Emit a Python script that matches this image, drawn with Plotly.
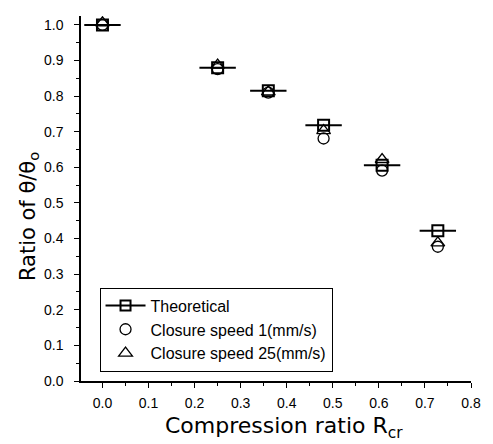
import plotly.graph_objects as go

# Data
compression_ratio = [0.0, 0.25, 0.36, 0.48, 0.607, 0.728]
theoretical = [1.0, 0.88, 0.815, 0.718, 0.606, 0.422]
speed_1 = [1.0, 0.876, 0.81, 0.681, 0.591, 0.377]
speed_25 = [1.006, 0.887, 0.812, 0.703, 0.622, 0.388]

x_ticks = [0.0, 0.1, 0.2, 0.3, 0.4, 0.5, 0.6, 0.7, 0.8]
x_tick_labels = ["0.0", "0.1", "0.2", "0.3", "0.4", "0.5", "0.6", "0.7", "0.8"]
y_ticks = [0.0, 0.1, 0.2, 0.3, 0.4, 0.5, 0.6, 0.7, 0.8, 0.9, 1.0]
y_tick_labels = ["0.0", "0.1", "0.2", "0.3", "0.4", "0.5", "0.6", "0.7", "0.8", "0.9", "1.0"]

fig = go.Figure()

# Circles (speed 1)
fig.add_trace(go.Scatter(
    x=compression_ratio, y=speed_1, mode="markers", showlegend=False,
    marker=dict(symbol="circle-open", size=11, color="black", line=dict(width=1.3)),
))
# Triangles (speed 25)
fig.add_trace(go.Scatter(
    x=compression_ratio, y=speed_25, mode="markers", showlegend=False,
    marker=dict(symbol="triangle-up-open", size=12, color="black", line=dict(width=1.3)),
))
# Theoretical squares
fig.add_trace(go.Scatter(
    x=compression_ratio, y=theoretical, mode="markers", showlegend=False,
    marker=dict(symbol="square-open", size=11, color="black", line=dict(width=2)),
))
# Theoretical horizontal bars
fig.add_trace(go.Scatter(
    x=compression_ratio, y=theoretical, mode="markers", showlegend=False,
    marker=dict(symbol="line-ew-open", size=26, color="black", line=dict(width=2, color="black")),
))

# Legend entries
fig.add_trace(go.Scatter(
    x=[None], y=[None], mode="lines+markers", name="Theoretical",
    line=dict(color="black", width=2),
    marker=dict(symbol="square-open", size=10, color="black", line=dict(width=2)),
))
fig.add_trace(go.Scatter(
    x=[None], y=[None], mode="markers", name="Closure speed 1(mm/s)",
    marker=dict(symbol="circle-open", size=11, color="black", line=dict(width=1.3)),
))
fig.add_trace(go.Scatter(
    x=[None], y=[None], mode="markers", name="Closure speed 25(mm/s)",
    marker=dict(symbol="triangle-up-open", size=12, color="black", line=dict(width=1.3)),
))

tick_font = dict(family="Liberation Sans, Arial, sans-serif", size=14, color="black")
xtitle_font = dict(family="DejaVu Sans, sans-serif", size=22, color="black")
ytitle_font = dict(family="DejaVu Sans, sans-serif", size=21, color="black")

fig.update_layout(
    width=493, height=444,
    margin=dict(l=81, r=12, t=16, b=63),
    paper_bgcolor="white", plot_bgcolor="white",
    font=dict(family="Liberation Sans, Arial, sans-serif", color="black"),
    legend=dict(
        x=0.0475, y=0.256, xanchor="left", yanchor="top",
        bordercolor="black", borderwidth=1, bgcolor="white",
        font=dict(size=16, color="black"),
        tracegroupgap=0, itemwidth=40,
    ),
    xaxis=dict(
        range=[-0.0466, 0.8], tickvals=x_ticks, ticktext=x_tick_labels,
        showline=True, linecolor="black", linewidth=1.5, mirror=False,
        ticks="outside", ticklen=5, tickwidth=1.3, tickcolor="black",
        minor=dict(dtick=0.05, tick0=0, ticks="outside", ticklen=3, tickcolor="black", tickwidth=1),
        showgrid=False, zeroline=False, tickfont=tick_font, ticklabelstandoff=3,
    ),
    yaxis=dict(
        range=[0.0, 1.025], tickvals=y_ticks, ticktext=y_tick_labels,
        showline=True, linecolor="black", linewidth=1.5, mirror=False,
        ticks="outside", ticklen=5, tickwidth=1.3, tickcolor="black",
        minor=dict(dtick=0.05, tick0=0, ticks="outside", ticklen=3, tickcolor="black", tickwidth=1),
        showgrid=False, zeroline=False, tickfont=tick_font, ticklabelstandoff=8,
    ),
    annotations=[
        dict(text="Compression ratio R<sub>cr</sub>", xref="paper", yref="paper",
             x=0.52, y=-0.128, xanchor="center", yanchor="middle",
             showarrow=False, font=xtitle_font),
        dict(text="Ratio of θ/θ<sub>o</sub>", xref="paper", yref="paper",
             x=-0.135, y=0.45, xanchor="center", yanchor="middle", textangle=-90,
             showarrow=False, font=ytitle_font),
    ],
)

fig.write_html("out.html")
